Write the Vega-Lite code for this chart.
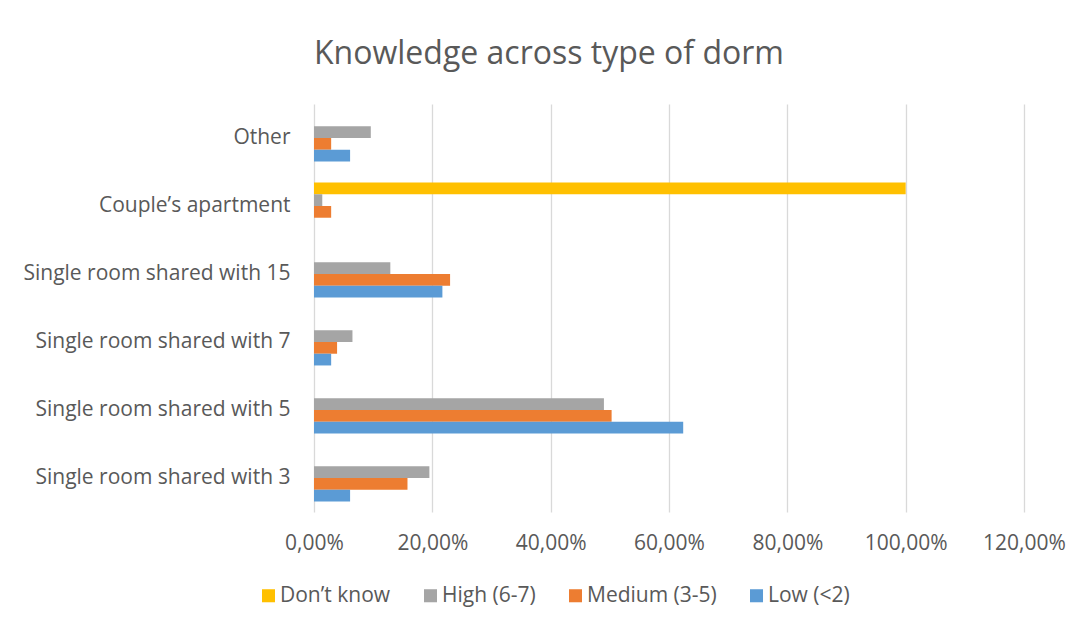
{
  "$schema": "https://vega.github.io/schema/vega-lite/v6.json",
  "width": 710,
  "height": 408,
  "autosize": {"type": "none"},
  "padding": {"left": 314, "top": 104, "right": 56, "bottom": 120},
  "background": "white",
  "title": {
    "text": "Knowledge across type of dorm",
    "anchor": "start",
    "frame": "group",
    "font": "Open Sans",
    "fontSize": 32,
    "fontWeight": "normal",
    "color": "#595959",
    "baseline": "alphabetic",
    "offset": 8
  },
  "data": {
    "values": [
      {"dorm": "Other", "level": "High (6-7)", "value": 0.096},
      {"dorm": "Other", "level": "Medium (3-5)", "value": 0.029},
      {"dorm": "Other", "level": "Low (<2)", "value": 0.061},
      {"dorm": "Couple’s apartment", "level": "Don’t know", "value": 1.0},
      {"dorm": "Couple’s apartment", "level": "High (6-7)", "value": 0.014},
      {"dorm": "Couple’s apartment", "level": "Medium (3-5)", "value": 0.029},
      {"dorm": "Single room shared with 15", "level": "High (6-7)", "value": 0.129},
      {"dorm": "Single room shared with 15", "level": "Medium (3-5)", "value": 0.230},
      {"dorm": "Single room shared with 15", "level": "Low (<2)", "value": 0.217},
      {"dorm": "Single room shared with 7", "level": "High (6-7)", "value": 0.065},
      {"dorm": "Single room shared with 7", "level": "Medium (3-5)", "value": 0.039},
      {"dorm": "Single room shared with 7", "level": "Low (<2)", "value": 0.029},
      {"dorm": "Single room shared with 5", "level": "High (6-7)", "value": 0.490},
      {"dorm": "Single room shared with 5", "level": "Medium (3-5)", "value": 0.503},
      {"dorm": "Single room shared with 5", "level": "Low (<2)", "value": 0.624},
      {"dorm": "Single room shared with 3", "level": "High (6-7)", "value": 0.195},
      {"dorm": "Single room shared with 3", "level": "Medium (3-5)", "value": 0.158},
      {"dorm": "Single room shared with 3", "level": "Low (<2)", "value": 0.061}
    ]
  },
  "mark": {"type": "bar"},
  "encoding": {
    "y": {
      "field": "dorm",
      "type": "nominal",
      "sort": ["Other", "Couple’s apartment", "Single room shared with 15", "Single room shared with 7", "Single room shared with 5", "Single room shared with 3"],
      "scale": {"paddingInner": 0.31, "paddingOuter": 0.155},
      "axis": {
        "title": null,
        "ticks": false,
        "domain": false,
        "grid": false,
        "labelFont": "Open Sans",
        "labelFontSize": 21,
        "labelColor": "#595959",
        "labelPadding": 24,
        "labelLimit": 400
      }
    },
    "yOffset": {
      "field": "level",
      "type": "nominal",
      "scale": {"domain": ["Don’t know", "High (6-7)", "Medium (3-5)", "Low (<2)"], "paddingInner": 0, "paddingOuter": 0}
    },
    "x": {
      "field": "value",
      "type": "quantitative",
      "scale": {"domain": [0, 1.2], "nice": false},
      "axis": {
        "title": null,
        "values": [0, 0.2, 0.4, 0.6, 0.8, 1.0, 1.2],
        "labelExpr": "replace(format(datum.value, '.2%'), '.', ',')",
        "labelOverlap": false,
        "labelFlush": false,
        "grid": true,
        "gridColor": "#d9d9d9",
        "gridWidth": 1.3,
        "domain": false,
        "ticks": false,
        "labelFont": "Open Sans",
        "labelFontSize": 21,
        "labelColor": "#595959",
        "labelPadding": 20
      }
    },
    "color": {
      "field": "level",
      "type": "nominal",
      "scale": {
        "domain": ["Don’t know", "High (6-7)", "Medium (3-5)", "Low (<2)"],
        "range": ["#FFC000", "#A5A5A5", "#ED7D31", "#5B9BD5"]
      },
      "legend": {
        "title": null,
        "orient": "none",
        "direction": "horizontal",
        "legendX": -56,
        "legendY": 481,
        "symbolType": "square",
        "symbolSize": 170,
        "symbolStrokeWidth": 0,
        "symbolOpacity": 1,
        "labelFont": "Open Sans",
        "labelFontSize": 21,
        "labelColor": "#595959",
        "labelOffset": 1,
        "columnPadding": 29
      }
    }
  },
  "config": {"view": {"stroke": null}}
}
